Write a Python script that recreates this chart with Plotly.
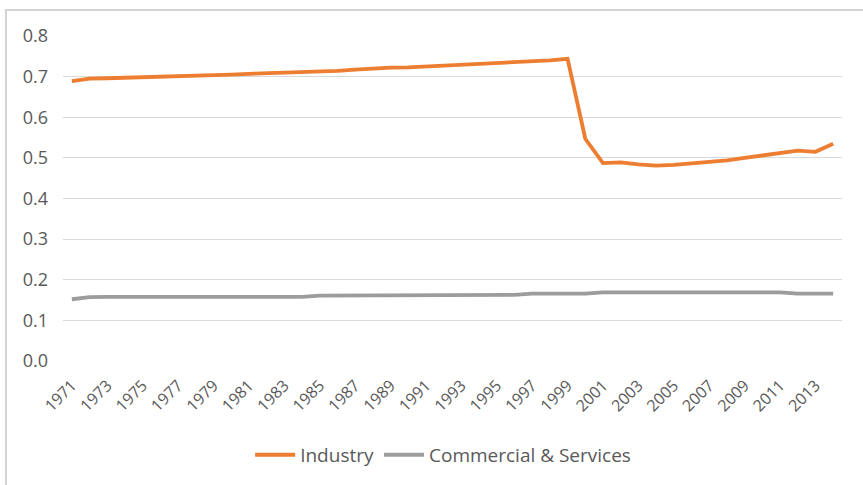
import plotly.graph_objects as go

years = [str(y) for y in range(1971, 2015)]

industry = [
    0.689, 0.695, 0.696, 0.697, 0.698, 0.699, 0.700, 0.702, 0.704, 0.705,
    0.707, 0.708, 0.710, 0.711, 0.713, 0.714, 0.717, 0.720, 0.722, 0.723,
    0.725, 0.728, 0.730, 0.731, 0.733, 0.735, 0.736, 0.740, 0.744, 0.547,
    0.487, 0.489, 0.484, 0.481, 0.483, 0.486, 0.491, 0.494, 0.500, 0.506,
    0.512, 0.518, 0.515, 0.535,
]

commercial = [
    0.152, 0.157, 0.158, 0.158, 0.158, 0.158, 0.158, 0.158, 0.158, 0.158,
    0.158, 0.158, 0.158, 0.158, 0.161, 0.161, 0.161, 0.161, 0.161, 0.161,
    0.163, 0.163, 0.163, 0.163, 0.163, 0.163, 0.166, 0.166, 0.166, 0.166,
    0.169, 0.169, 0.169, 0.169, 0.169, 0.169, 0.169, 0.169, 0.169, 0.169,
    0.169, 0.166, 0.166, 0.166,
]

y_ticks = [0.0, 0.1, 0.2, 0.3, 0.4, 0.5, 0.6, 0.7, 0.8]
x_ticks = years[::2]

TEXT = "#595959"
FONT = "Open Sans"

fig = go.Figure()
fig.add_trace(go.Scatter(
    x=years, y=industry, mode="lines", name="Industry",
    line=dict(color="#ED7D31", width=3.8),
))
fig.add_trace(go.Scatter(
    x=years, y=commercial, mode="lines", name="Commercial & Services",
    line=dict(color="#9C9C9C", width=3.8),
))

fig.update_layout(
    width=863, height=485,
    margin=dict(l=63, r=21, t=36, b=123),
    paper_bgcolor="white", plot_bgcolor="white",
    font=dict(family=FONT, color=TEXT, size=15),
    showlegend=True,
    legend=dict(
        orientation="h", x=0.488, xanchor="center", y=-0.285, yanchor="middle",
        font=dict(family=FONT, size=19, color=TEXT), itemwidth=40,
    ),
    xaxis=dict(
        type="category", range=[-0.5, len(years) - 0.5],
        tickmode="array", tickvals=x_ticks, ticktext=x_ticks,
        tickangle=-45, showgrid=False, showline=False, ticks="",
        ticklabelstandoff=11,
        tickfont=dict(size=16, color=TEXT), zeroline=False,
    ),
    yaxis=dict(
        range=[0, 0.8], tickmode="array", tickvals=y_ticks,
        ticktext=[f"{v:.1f}" for v in y_ticks],
        showgrid=True, gridcolor="#D9D9D9", gridwidth=1,
        zeroline=False, showline=False, ticks="",
        ticklabelstandoff=14,
        tickfont=dict(size=18, color=TEXT),
    ),
    shapes=[dict(
        type="rect", xref="paper", yref="paper",
        x0=-0.0732, x1=1.2, y0=-0.6, y1=1.0798,
        line=dict(color="#D4D4D4", width=2), fillcolor="rgba(0,0,0,0)",
        layer="below",
    )],
)

fig.write_html("out.html")
